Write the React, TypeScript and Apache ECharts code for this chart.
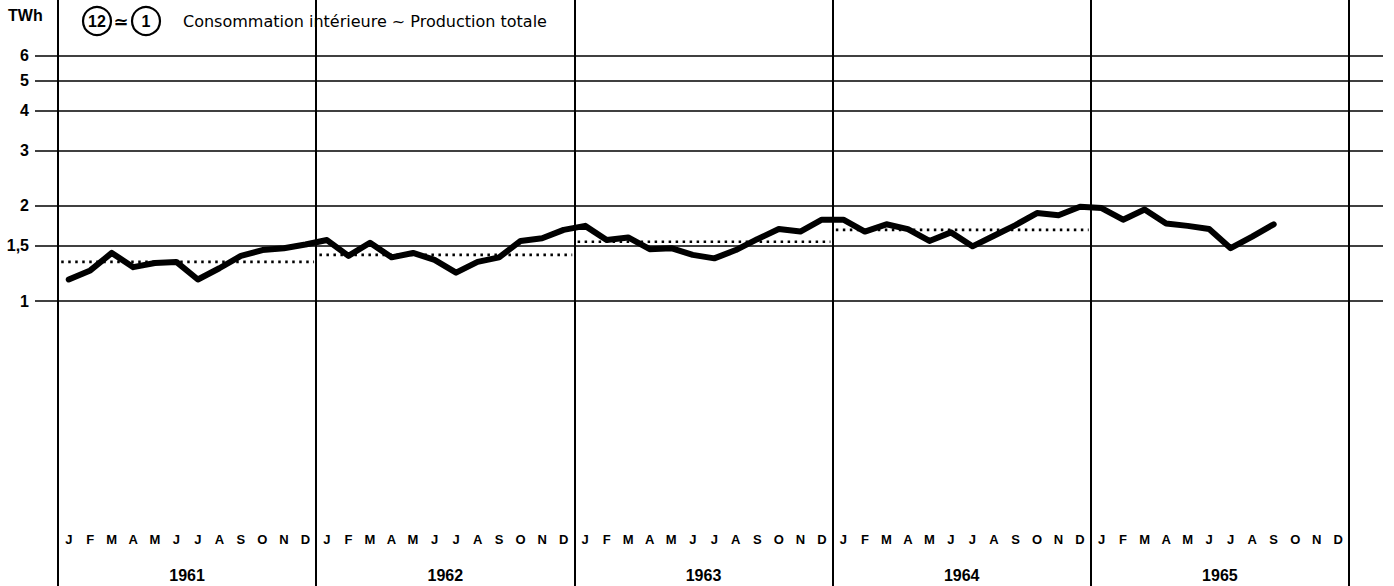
import React, { useEffect, useRef } from "react";
import * as echarts from "echarts";

// ---- Data ----
const years = ["1961", "1962", "1963", "1964", "1965"];
const monthLetters = ["J", "F", "M", "A", "M", "J", "J", "A", "S", "O", "N", "D"];
const values1961 = [1.17, 1.25, 1.42, 1.28, 1.32, 1.33, 1.17, 1.27, 1.39, 1.45, 1.47, 1.51];
const values1962 = [1.56, 1.39, 1.53, 1.375, 1.42, 1.35, 1.23, 1.33, 1.375, 1.55, 1.58, 1.68];
const values1963 = [1.73, 1.56, 1.59, 1.46, 1.47, 1.40, 1.365, 1.45, 1.57, 1.69, 1.66, 1.81];
const values1964 = [1.81, 1.66, 1.75, 1.69, 1.55, 1.65, 1.49, 1.61, 1.74, 1.90, 1.87, 1.99];
const values1965 = [1.97, 1.81, 1.95, 1.76, 1.73, 1.69, 1.47, 1.60, 1.75];
const yearAverages = [1.33, 1.40, 1.54, 1.68];
const gridValues = [6, 5, 4, 3, 2, 1.5, 1];
const gridLabels = ["6", "5", "4", "3", "2", "1,5", "1"];
const legendText = "Consommation intérieure ~ Production totale";

// ---- Layout ----
const W = 1394;
const H = 586;
const LINE_LEFT = 35;
const LINE_RIGHT = 1383;
const PLOT_LEFT = 58;
const PLOT_RIGHT = 1349;
const Y_ONE = 301; // pixel of value 1
const DECADE = 315.6; // pixels per decade

const monthsTotal = years.length * 12;
const pxPerMonth = (PLOT_RIGHT - PLOT_LEFT) / monthsTotal;
const X_MIN = -(PLOT_LEFT - LINE_LEFT) / pxPerMonth;
const X_MAX = monthsTotal + (LINE_RIGHT - PLOT_RIGHT) / pxPerMonth;
const Y_MAX = Math.pow(10, Y_ONE / DECADE);
const Y_MIN = Math.pow(10, -(H - Y_ONE) / DECADE);

export default function App() {
  const ref = useRef<HTMLDivElement>(null);

  useEffect(() => {
    document.body.style.margin = "0";
    const chart = echarts.init(ref.current!, null, { renderer: "svg" });

    const allValues = [...values1961, ...values1962, ...values1963, ...values1964, ...values1965];
    const mainData = allValues.map((v, i) => [i + 0.5, v]);
    const monthCats = years.flatMap((y) => monthLetters.map((m, i) => `${m}|${y}-${i}`));

    const avgSeries = yearAverages.map((a, k) => ({
      type: "line",
      xAxisIndex: 0,
      yAxisIndex: 0,
      data: [
        [k * 12 + 0.15, a],
        [k * 12 + 11.9, a],
      ],
      symbol: "none",
      silent: true,
      z: 3,
      lineStyle: { color: "#000", width: 2.6, type: [2.5, 4.5] },
    }));

    const hLines = gridValues.map((v, i) => ({
      yAxis: v,
      name: gridLabels[i],
    }));
    const vLines = Array.from({ length: years.length + 1 }, (_, k) => ({
      xAxis: k * 12,
      name: "",
      label: { show: false },
      lineStyle: { width: 2 },
    }));

    const fontBold = "'Liberation Sans', Arial, sans-serif";
    const fontTitle = "'DejaVu Sans', sans-serif";

    const option: any = {
      animation: false,
      backgroundColor: "#fff",
      grid: [
        { left: LINE_LEFT, right: W - LINE_RIGHT, top: 0, bottom: 0 },
        { left: PLOT_LEFT, right: W - PLOT_RIGHT, top: 0, bottom: 58 },
      ],
      xAxis: [
        { type: "value", gridIndex: 0, min: X_MIN, max: X_MAX, show: false },
        {
          type: "category",
          gridIndex: 1,
          data: monthCats,
          boundaryGap: true,
          axisLine: { show: false },
          axisTick: { show: false },
          splitLine: { show: false },
          axisLabel: {
            interval: 0,
            margin: 5,
            formatter: (v: string) => v.split("|")[0],
            fontWeight: "bold",
            fontSize: 13,
            color: "#000",
            fontFamily: fontBold,
          },
        },
        {
          type: "category",
          gridIndex: 1,
          data: years,
          position: "bottom",
          offset: 35,
          boundaryGap: true,
          axisLine: { show: false },
          axisTick: { show: false },
          splitLine: { show: false },
          axisLabel: {
            interval: 0,
            margin: 4,
            fontWeight: "bold",
            fontSize: 16,
            color: "#000",
            fontFamily: fontBold,
          },
        },
      ],
      yAxis: [
        { type: "log", gridIndex: 0, min: Y_MIN, max: Y_MAX, show: false },
        { type: "value", gridIndex: 1, show: false },
      ],
      series: [
        {
          type: "line",
          xAxisIndex: 0,
          yAxisIndex: 0,
          data: [],
          symbol: "none",
          silent: true,
          z: 1,
          markLine: {
            silent: true,
            symbol: "none",
            animation: false,
            lineStyle: { color: "#000", width: 1.6, type: "solid" },
            label: {
              show: true,
              position: "start",
              formatter: "{b}",
              distance: 6,
              fontWeight: "bold",
              fontSize: 16,
              color: "#000",
              fontFamily: fontBold,
            },
            emphasis: { disabled: true },
            data: [...hLines, ...vLines],
          },
        },
        ...avgSeries,
        {
          type: "line",
          xAxisIndex: 0,
          yAxisIndex: 0,
          data: mainData,
          symbol: "none",
          silent: true,
          z: 5,
          lineStyle: { color: "#000", width: 6, join: "round", cap: "round" },
        },
      ],
      graphic: [
        {
          type: "text",
          x: 8,
          y: 15,
          style: { text: "TWh", verticalAlign: "middle", font: `bold 16px ${fontBold}`, fill: "#000" },
        },
        {
          type: "circle",
          shape: { cx: 97, cy: 21, r: 14 },
          style: { fill: "none", stroke: "#000", lineWidth: 2.2 },
        },
        {
          type: "text",
          x: 97,
          y: 21,
          style: { text: "12", align: "center", verticalAlign: "middle", font: `bold 16px ${fontBold}`, fill: "#000" },
        },
        {
          type: "text",
          x: 121,
          y: 21,
          style: { text: "≃", align: "center", verticalAlign: "middle", font: `bold 18px ${fontTitle}`, fill: "#000" },
        },
        {
          type: "circle",
          shape: { cx: 146, cy: 21, r: 14 },
          style: { fill: "none", stroke: "#000", lineWidth: 2.2 },
        },
        {
          type: "text",
          x: 146,
          y: 21,
          style: { text: "1", align: "center", verticalAlign: "middle", font: `bold 16px ${fontBold}`, fill: "#000" },
        },
        {
          type: "text",
          x: 183,
          y: 21,
          style: { text: legendText, align: "left", verticalAlign: "middle", font: `16px ${fontTitle}`, fill: "#000" },
        },
      ],
    };

    chart.setOption(option);
    return () => chart.dispose();
  }, []);

  return <div ref={ref} style={{ width: W, height: H }} />;
}
